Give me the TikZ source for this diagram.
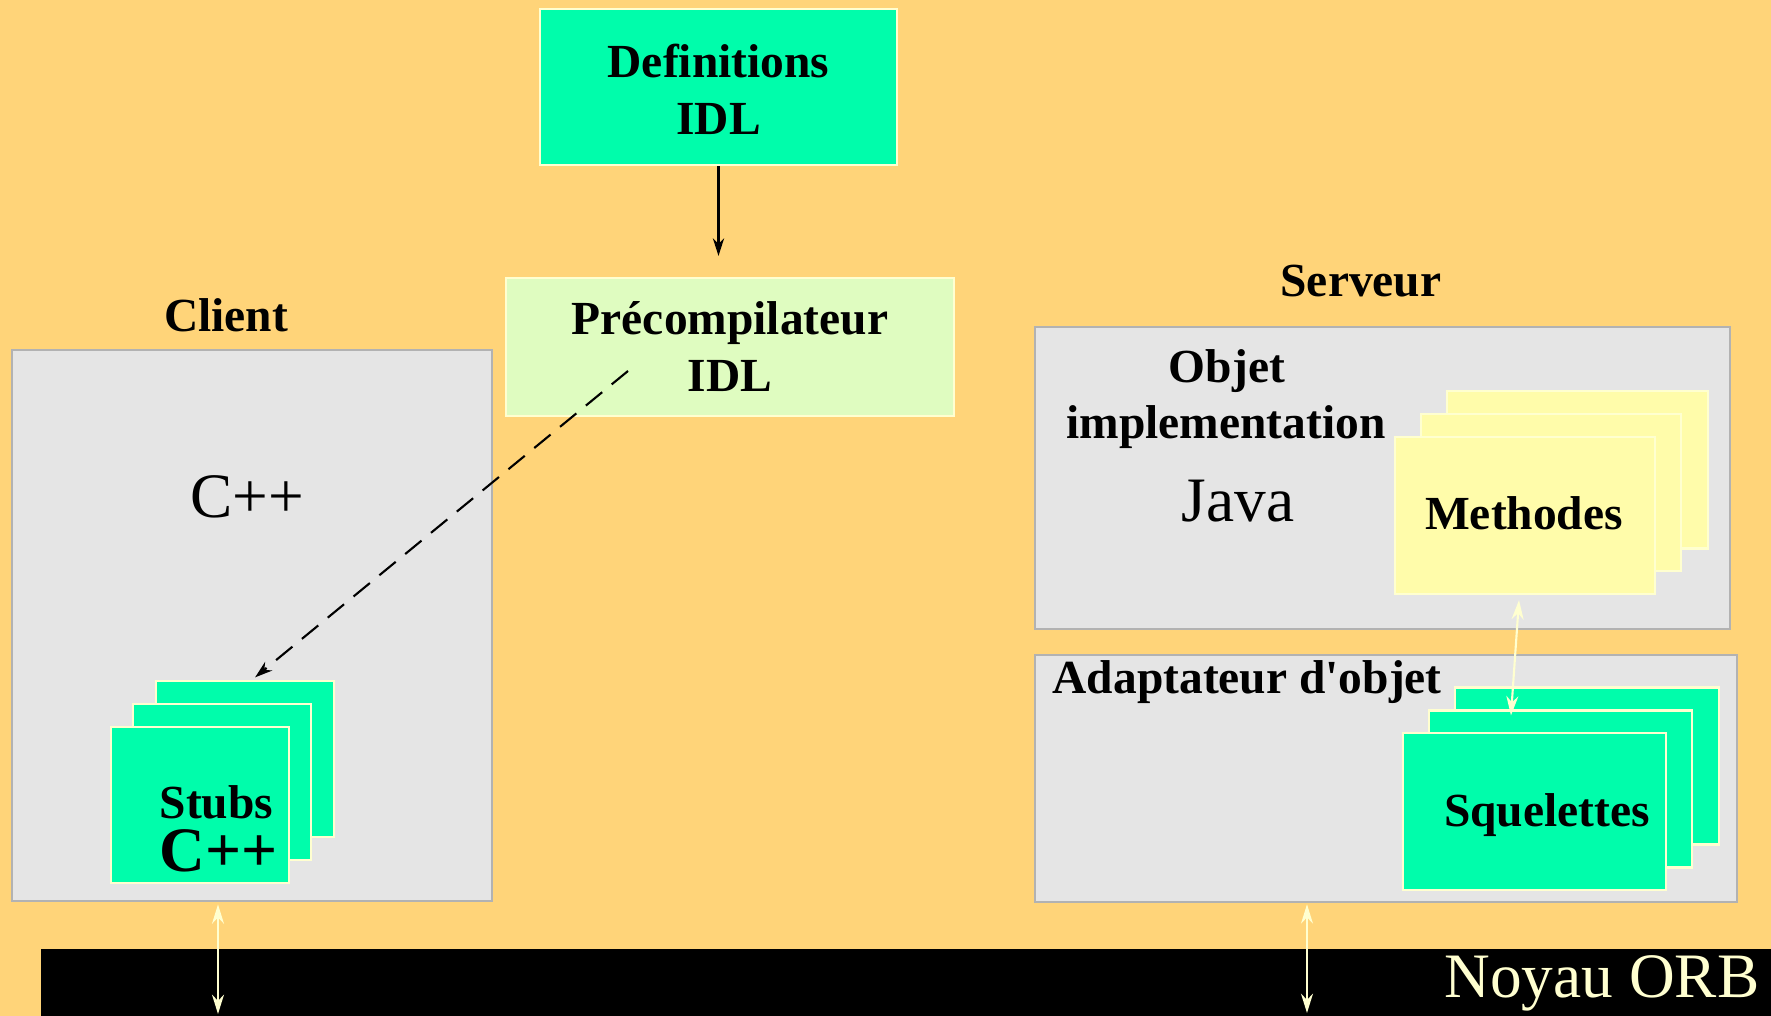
\documentclass[tikz,border=0pt]{standalone}
\usepackage{fontspec}
\setmainfont{Liberation Serif}[Ligatures=TeXOff]
\usetikzlibrary{arrows.meta}
\definecolor{bgor}{HTML}{FFD479}
\definecolor{grn}{HTML}{00FDAB}
\definecolor{lgrn}{HTML}{DFFCC0}
\definecolor{ylw}{HTML}{FFFCAA}
\definecolor{grayf}{HTML}{E5E5E5}
\definecolor{grayd}{HTML}{B2B2B2}
\definecolor{cream}{HTML}{FFFFD0}
\begin{document}
\begin{tikzpicture}[x=0.01cm,y=-0.01cm,
  grayb/.style={rectangle, fill=grayf, draw=grayd, line width=0.7pt, inner sep=0pt},
  greenb/.style={rectangle, fill=grn, draw=cream, line width=0.6pt, inner sep=0pt},
  lgreenb/.style={rectangle, fill=lgrn, draw=cream, line width=0.6pt, inner sep=0pt},
  yellowb/.style={rectangle, fill=ylw, draw=cream, line width=0.6pt, inner sep=0pt},
  bt/.style={font=\fontsize{13.5}{16.2}\selectfont\bfseries, inner sep=0pt},
  rt/.style={font=\fontsize{18}{21}\selectfont, inner sep=0pt},
  blackarrow/.style={line width=0.6pt, -{Stealth[length=5pt,width=3.2pt]}},
  creamarrow/.style={draw=cream, line width=0.6pt, {Stealth[length=5.5pt,width=3.4pt]}-{Stealth[length=5.5pt,width=3.4pt]}}
]
\fill[bgor] (0,0) rectangle (1771,1016);
\useasboundingbox (0,0) rectangle (1771,1016);

% top boxes
\node[greenb, bt, align=center, minimum width=3.57cm, minimum height=1.56cm] (def) at (718.5,87) {\rule{0pt}{11pt}Definitions\\IDL};
\node[lgreenb, bt, align=center, minimum width=4.48cm, minimum height=1.38cm] (pre) at (730,347) {Précompilateur\\IDL};

% client
\node[bt, anchor=base] (clientlbl) at (226,332) {Client};
\node[grayb, minimum width=4.80cm, minimum height=5.51cm] (client) at (252,625.5) {};
\node[rt, anchor=base] (cpp) at (247,518) {C++};
\node[greenb, minimum width=1.78cm, minimum height=1.56cm] (stub3) at (245,759) {};
\node[greenb, minimum width=1.78cm, minimum height=1.56cm] (stub2) at (222,782) {};
\node[greenb, minimum width=1.78cm, minimum height=1.56cm] (stub1) at (200,805) {};
\node[bt, anchor=base west] (stubt) at (159,819) {Stubs};
\node[font=\fontsize{18}{21}\selectfont\bfseries, inner sep=0pt, anchor=base west] (stubc) at (159,872) {C++};

% server
\node[bt, anchor=base] (srvlbl) at (1361,297) {Serveur};
\node[grayb, minimum width=6.95cm, minimum height=3.02cm] (srv) at (1382.5,478) {};
\node[bt, anchor=base] (objet) at (1227,383) {Objet};
\node[bt, anchor=base] (impl) at (1226,439) {implementation};
\node[rt, anchor=base] (java) at (1238,522) {Java};
\node[yellowb, minimum width=2.60cm, minimum height=1.57cm] (meth3) at (1577.5,470) {};
\node[yellowb, minimum width=2.60cm, minimum height=1.57cm] (meth2) at (1551,492.5) {};
\node[yellowb, minimum width=2.60cm, minimum height=1.57cm] (meth1) at (1525,515.5) {};
\node[bt, anchor=base] (metht) at (1524,530) {Methodes};

\node[grayb, minimum width=7.02cm, minimum height=2.47cm] (adapt) at (1386,778.5) {};
\node[bt, anchor=base west] (adaptt) at (1052,694) {Adaptateur d'objet};
\node[greenb, minimum width=2.63cm, minimum height=1.57cm] (squel3) at (1587,766) {};
\node[greenb, minimum width=2.63cm, minimum height=1.57cm] (squel2) at (1560.5,789) {};
\node[greenb, minimum width=2.63cm, minimum height=1.57cm] (squel1) at (1534.5,811.5) {};
\node[bt, anchor=base] (squelt) at (1547,827) {Squelettes};

% ORB bar
\node[fill=black, inner sep=0pt, minimum width=17.29cm, minimum height=0.67cm] (orb) at (906.5,982.5) {};
\node[rt, text=cream, anchor=base east] (orbt) at (1760,998) {Noyau ORB};

% connectors
\draw[blackarrow, shorten >=0.21cm] (def.south) -- (def.south |- pre.north);
\coordinate (dstart) at (628,371);
\draw[blackarrow, dash pattern=on 6pt off 3.5pt, shorten >=0.04cm] (dstart) -- ([xshift=0.07cm]stub3.north);
\coordinate (cbot) at (218,1014);
\draw[creamarrow, shorten <=0.02cm] (cbot |- client.south) -- (cbot);
\coordinate (sbot) at (1307,1013);
\draw[creamarrow, shorten <=0.01cm] (sbot |- adapt.south) -- (sbot);
\draw[creamarrow] ([xshift=-0.06cm,yshift=-0.05cm]meth1.south) -- ([xshift=-0.495cm,yshift=-0.06cm]squel2.north);
\end{tikzpicture}
\end{document}
